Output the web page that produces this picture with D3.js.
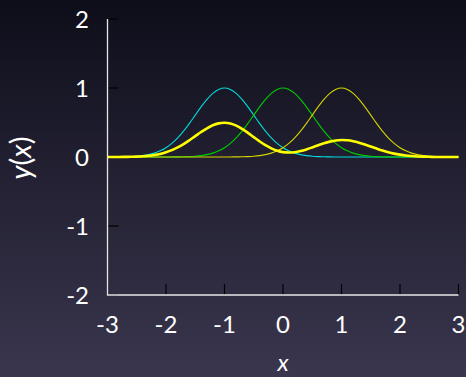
<!DOCTYPE html>
<html>
<head>
<meta charset="utf-8">
<script src="https://cdn.jsdelivr.net/npm/d3@7"></script>
<style>
  html, body { margin: 0; padding: 0; background: #1a1a28; }
  svg { display: block; }
</style>
</head>
<body>
<svg id="chart" width="466" height="377"></svg>
<script>
// sample positions along x
const xs = [-3.0,-2.9,-2.8,-2.7,-2.6,-2.5,-2.4,-2.3,-2.2,-2.1,-2.0,-1.9,-1.8,-1.7,-1.6,-1.5,-1.4,-1.3,-1.2,-1.1,
  -1.0,-0.9,-0.8,-0.7,-0.6,-0.5,-0.4,-0.3,-0.2,-0.1,0.0,0.1,0.2,0.3,0.4,0.5,0.6,0.7,0.8,0.9,
  1.0,1.1,1.2,1.3,1.4,1.5,1.6,1.7,1.8,1.9,2.0,2.1,2.2,2.3,2.4,2.5,2.6,2.7,2.8,2.9,3.0];

// basis curve centred at -1 (cyan)
const basisLeft = [0,0.001,0.002,0.003,0.006,0.011,0.020,0.034,0.056,0.089,0.135,0.198,0.278,0.375,0.487,0.607,0.726,0.835,0.923,0.980,
  1.000,0.980,0.923,0.835,0.726,0.607,0.487,0.375,0.278,0.198,0.135,0.089,0.056,0.034,0.020,0.011,0.006,0.003,0.002,0.001,
  0,0,0,0,0,0,0,0,0,0,0,0,0,0,0,0,0,0,0,0,0];

// basis curve centred at 0 (green)
const basisMid = [0,0,0,0,0,0,0,0,0,0,0,0.001,0.002,0.003,0.006,0.011,0.020,0.034,0.056,0.089,
  0.135,0.198,0.278,0.375,0.487,0.607,0.726,0.835,0.923,0.980,1.000,0.980,0.923,0.835,0.726,0.607,0.487,0.375,0.278,0.198,
  0.135,0.089,0.056,0.034,0.020,0.011,0.006,0.003,0.002,0.001,0,0,0,0,0,0,0,0,0,0,0];

// basis curve centred at 1 (thin yellow)
const basisRight = [0,0,0,0,0,0,0,0,0,0,0,0,0,0,0,0,0,0,0,0,
  0,0.001,0.002,0.003,0.006,0.011,0.020,0.034,0.056,0.089,0.135,0.198,0.278,0.375,0.487,0.607,0.726,0.835,0.923,0.980,
  1.000,0.980,0.923,0.835,0.726,0.607,0.487,0.375,0.278,0.198,0.135,0.089,0.056,0.034,0.020,0.011,0.006,0.003,0.002,0.001,0];

// combined output (thick yellow)
const output = [0,0.001,0.001,0.002,0.003,0.005,0.010,0.017,0.028,0.044,0.068,0.099,0.139,0.187,0.243,0.303,0.362,0.416,0.460,0.487,
  0.496,0.484,0.454,0.407,0.350,0.288,0.227,0.171,0.125,0.092,0.071,0.065,0.070,0.086,0.110,0.139,0.170,0.199,0.223,0.240,
  0.246,0.242,0.229,0.208,0.181,0.151,0.122,0.094,0.069,0.049,0.034,0.022,0.014,0.008,0.005,0.003,0.001,0.001,0,0,0];

const xTicks = [-3,-2,-1,0,1,2,3];
const yTicks = [-2,-1,0,1,2];

const W = 466, H = 377;
const svg = d3.select("#chart");

// background gradient
const defs = svg.append("defs");
const grad = defs.append("linearGradient").attr("id","bg").attr("x1",0).attr("y1",0).attr("x2",0).attr("y2",1);
grad.append("stop").attr("offset","0%").attr("stop-color","#0e0e1a");
grad.append("stop").attr("offset","100%").attr("stop-color","#3a364e");
svg.append("rect").attr("width",W).attr("height",H).attr("fill","url(#bg)");

const x = d3.scaleLinear().domain([-3,3]).range([107.5,458.5]);
const y = d3.scaleLinear().domain([-2,2]).range([295,19]);

const font = "Lato, 'Open Sans', sans-serif";

// inward ticks (black)
const g = svg.append("g");
g.selectAll(".yt").data(yTicks).enter().append("line")
  .attr("x1", x(-3)).attr("x2", x(-3)+11)
  .attr("y1", d=>y(d)).attr("y2", d=>y(d))
  .attr("stroke","#000").attr("stroke-width",1.2);
g.selectAll(".xt").data(xTicks).enter().append("line")
  .attr("x1", d=>x(d)).attr("x2", d=>x(d))
  .attr("y1", y(-2)).attr("y2", y(-2)-11)
  .attr("stroke","#000").attr("stroke-width",1.2);

// curves
const line = d3.line().x((d,i)=>x(xs[i])).y(d=>y(d)).curve(d3.curveCatmullRom);
const series = [
  {v: basisLeft, c: "#00dada", w: 1.1},
  {v: basisMid, c: "#00cc00", w: 1.1},
  {v: basisRight, c: "#d4d400", w: 1.1},
  {v: output, c: "#ffff00", w: 2.6}
];
svg.selectAll(".curve").data(series).enter().append("path")
  .attr("d", d=>line(d.v))
  .attr("fill","none")
  .attr("stroke", d=>d.c)
  .attr("stroke-width", d=>d.w);

// axis lines (left and bottom)
svg.append("path")
  .attr("d", `M${x(-3)},${y(2)}V${y(-2)}H${x(3)}`)
  .attr("fill","none").attr("stroke","#e6e6e6").attr("stroke-width",1.3);

// tick labels
svg.selectAll(".yl").data(yTicks).enter().append("text")
  .attr("x", 89).attr("y", d=>y(d)).attr("dy","0.36em")
  .attr("text-anchor","end")
  .attr("font-family", font).attr("font-size", 24).attr("fill","#ffffff")
  .text(d=>String(d));
svg.selectAll(".xl").data(xTicks).enter().append("text")
  .attr("x", d=>x(d)).attr("y", 333)
  .attr("text-anchor","middle")
  .attr("font-family", font).attr("font-size", 24).attr("fill","#ffffff")
  .text(d=>String(d));

// axis titles
svg.append("text")
  .attr("x", x(0)).attr("y", 371)
  .attr("text-anchor","middle")
  .attr("font-family", font).attr("font-size", 24).attr("font-style","italic").attr("fill","#ffffff")
  .text("x");
const yl = svg.append("text")
  .attr("transform", `translate(31,158) rotate(-90)`)
  .attr("text-anchor","middle")
  .attr("font-family", font).attr("font-size", 29).attr("fill","#ffffff");
yl.append("tspan").attr("font-style","italic").text("y");
yl.append("tspan").text("(");
yl.append("tspan").attr("font-style","italic").text("x");
yl.append("tspan").text(")");
</script>
</body>
</html>
